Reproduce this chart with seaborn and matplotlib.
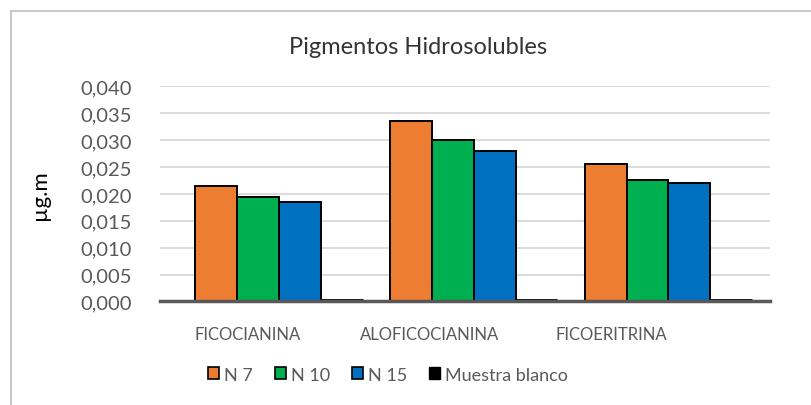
import matplotlib
matplotlib.use("Agg")
import matplotlib.pyplot as plt
import matplotlib.transforms as mtransforms
import seaborn as sns
import pandas as pd
from matplotlib.patches import Rectangle
from matplotlib.lines import Line2D

categories = ["FICOCIANINA", "ALOFICOCIANINA", "FICOERITRINA"]
series = ["N 7", "N 10", "N 15", "Muestra blanco"]
n7 = [0.0215, 0.0335, 0.0255]
n10 = [0.0195, 0.0300, 0.0225]
n15 = [0.0185, 0.0280, 0.0220]
blanco = [0.0, 0.0, 0.0]
yticks = [0.000, 0.005, 0.010, 0.015, 0.020, 0.025, 0.030, 0.035, 0.040]
ytick_labels = ["0,000", "0,005", "0,010", "0,015", "0,020", "0,025", "0,030", "0,035", "0,040"]
colors = ["#ED7D31", "#00B050", "#0070C0", "#000000"]

rows = []
for s, vals in zip(series, [n7, n10, n15, blanco]):
    for c, v in zip(categories, vals):
        rows.append({"cat": c, "serie": s, "val": v})
df = pd.DataFrame(rows)

sns.set_theme(style="white")
plt.rcParams["font.family"] = ["Lato", "DejaVu Sans"]

text_col = "#595959"

fig = plt.figure(figsize=(8.12, 4.06), dpi=100)
ax = fig.add_axes([0.197, 0.255, 0.751, 0.53])

sns.barplot(data=df, x="cat", y="val", hue="serie", order=categories,
            hue_order=series, palette=colors, width=0.86, dodge=True,
            edgecolor="black", linewidth=1.4, saturation=1, ax=ax, legend=False)

# blank bars: flat black tiles
for patch in ax.containers[3]:
    patch.set_linewidth(3.5)
    patch.set_edgecolor("black")

ax.set_ylim(0, 0.040)
ax.set_yticks(yticks)
ax.set_yticklabels(ytick_labels, color=text_col, fontsize=14.5)
ax.tick_params(axis="x", colors=text_col, labelsize=12, length=0, pad=18)
ax.tick_params(axis="y", length=0, pad=20)
# perspective-like leftward shift of category labels (as in the 3D original)
label_shift_px = [-31, -44, -57]
for lbl, dx in zip(ax.get_xticklabels(), label_shift_px):
    lbl.set_color(text_col)
    lbl.set_transform(lbl.get_transform() +
                      mtransforms.ScaledTranslation(dx / 100, 0, fig.dpi_scale_trans))
ax.set_xlabel("")
ax.set_ylabel("µg.m", fontsize=16, color="black", labelpad=22)
ax.yaxis.grid(True, color="#D9D9D9", linewidth=1.3)
ax.set_axisbelow(True)
for sp in ["top", "right", "left"]:
    ax.spines[sp].set_visible(False)
ax.spines["bottom"].set_color("#595959")
ax.spines["bottom"].set_linewidth(2.5)
ax.set_xlim(-0.61, 2.52)

fig.text(0.515, 0.882, "Pigmentos Hidrosolubles", ha="center", va="center",
         fontsize=17, color="#333333")

handles = [Rectangle((0, 0), 1, 1, facecolor=c, edgecolor="black", linewidth=1.2)
           for c in colors[:3]]
handles.append(Rectangle((0, 0), 1, 1, facecolor="black", edgecolor="black"))
fig.legend(handles, series, loc="center", bbox_to_anchor=(0.478, 0.075), ncol=4,
           frameon=False, fontsize=13, handlelength=0.6, handleheight=0.6,
           handletextpad=0.3, columnspacing=1.2, labelcolor=text_col)

fig.add_artist(Line2D([0.0135, 0.0135], [0.0, 0.97], transform=fig.transFigure,
                      color="#C8C8C8", linewidth=1.5))
fig.add_artist(Line2D([0.0135, 1.0], [0.97, 0.97], transform=fig.transFigure,
                      color="#C8C8C8", linewidth=1.5))

fig.savefig("out.png", dpi=100)
